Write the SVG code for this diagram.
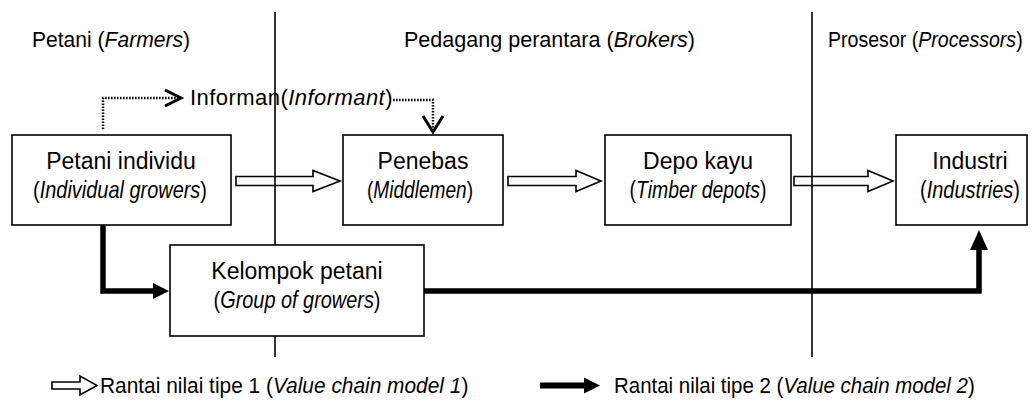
<svg xmlns="http://www.w3.org/2000/svg" width="1034" height="403" viewBox="0 0 1034 403">
<style>
  text { font-family: "Liberation Sans", Arial, sans-serif; fill: #000; }
  .hd { font-size: 22px; }
  .bx { font-size: 23px; text-anchor: middle; }
  .lg { font-size: 22px; }
  .it { font-style: italic; }
  .box { fill: #fff; stroke: #000; stroke-width: 1.6; }
  .div { stroke: #000; stroke-width: 1.6; fill: none; }
  .hollow { fill: #fff; stroke: #000; stroke-width: 1.6; stroke-linejoin: miter; }
  .thick { fill: none; stroke: #000; stroke-width: 5.5; stroke-linejoin: miter; }
  .dot { fill: none; stroke: #000; stroke-width: 2.5; stroke-dasharray: 1.6 1.4; }
  .chev { fill: none; stroke: #000; stroke-width: 3; }
</style>

<!-- column headers -->
<g id="headers">
  <text class="hd" transform="translate(32,47) scale(0.958,1)">Petani (<tspan class="it">Farmers</tspan>)</text>
  <text class="hd" transform="translate(404,47) scale(0.98,1)">Pedagang perantara (<tspan class="it">Brokers</tspan>)</text>
  <text class="hd" transform="translate(828,47) scale(0.89,1)">Prosesor (<tspan class="it">Processors</tspan>)</text>
</g>

<!-- connectors -->
<g id="connectors">
  <!-- hollow arrows (value chain 1) -->
  <path class="hollow" d="M236,176.5 H313 V170.5 L340,181 L313,191.5 V185.5 H236 Z"/>
  <path class="hollow" d="M508,176.5 H576 V170.5 L601,181 L576,191.5 V185.5 H508 Z"/>
  <path class="hollow" d="M794,176.5 H868 V170.5 L893,181 L868,191.5 V185.5 H794 Z"/>
  <!-- thick (value chain 2) -->
  <polyline class="thick" points="103,225 103,291 155,291"/>
  <polygon points="153,283 169,291 153,299" fill="#000"/>
  <polyline class="thick" points="424,291 979,291 979,248"/>
  <polygon points="970,250 979,230 988,250" fill="#000"/>
  <!-- informant dotted -->
  <polyline class="dot" points="103,129 103,98 178,98"/>
  <polyline class="chev" points="165,90 181,98 165,106"/>
  <polyline class="dot" points="393,100 433,100 433,130"/>
  <polyline class="chev" points="423,116 433,132 443,116"/>
</g>

<!-- column dividers -->
<g id="dividers">
  <line class="div" x1="275" y1="12" x2="275" y2="357"/>
  <line class="div" x1="812" y1="12" x2="812" y2="357"/>
</g>

<g id="informan">
  <text class="hd" x="190" y="105" letter-spacing="0.45">Informan(<tspan class="it">Informant</tspan>)</text>
</g>

<g id="petani-individu">
  <rect class="box" x="12" y="135" width="219" height="90"/>
  <text class="bx" x="121" y="169">Petani individu</text>
  <text class="bx" transform="translate(120,198) scale(0.867,1)">(<tspan class="it">Individual growers</tspan>)</text>
</g>

<g id="penebas">
  <rect class="box" x="343" y="135" width="160" height="90"/>
  <text class="bx" x="423" y="169">Penebas</text>
  <text class="bx" transform="translate(420,198) scale(0.83,1)">(<tspan class="it">Middlemen</tspan>)</text>
</g>

<g id="depo-kayu">
  <rect class="box" x="605" y="135" width="186" height="90"/>
  <text class="bx" x="698" y="169">Depo kayu</text>
  <text class="bx" transform="translate(698,198) scale(0.844,1)">(<tspan class="it">Timber depots</tspan>)</text>
</g>

<g id="industri">
  <rect class="box" x="896" y="135" width="131" height="90"/>
  <text class="bx" x="970" y="169">Industri</text>
  <text class="bx" transform="translate(970,198) scale(0.87,1)">(<tspan class="it">Industries</tspan>)</text>
</g>

<g id="kelompok-petani">
  <rect class="box" x="170" y="245" width="254" height="91"/>
  <text class="bx" x="297" y="279">Kelompok petani</text>
  <text class="bx" transform="translate(297,308) scale(0.865,1)">(<tspan class="it">Group of growers</tspan>)</text>
</g>

<!-- legend -->
<g id="legend">
  <path class="hollow" d="M52,382 H80 V376 L97,385.5 L80,395 V389 H52 Z"/>
  <text class="lg" transform="translate(100,393) scale(0.95,1)">Rantai nilai tipe 1 (<tspan class="it">Value chain model 1</tspan>)</text>
  <line x1="540" y1="385.5" x2="586" y2="385.5" stroke="#000" stroke-width="6"/>
  <polygon points="584,377.5 600,385.5 584,393.5" fill="#000"/>
  <text class="lg" transform="translate(614,393) scale(0.93,1)">Rantai nilai tipe 2 (<tspan class="it">Value chain model 2</tspan>)</text>
</g>
</svg>
